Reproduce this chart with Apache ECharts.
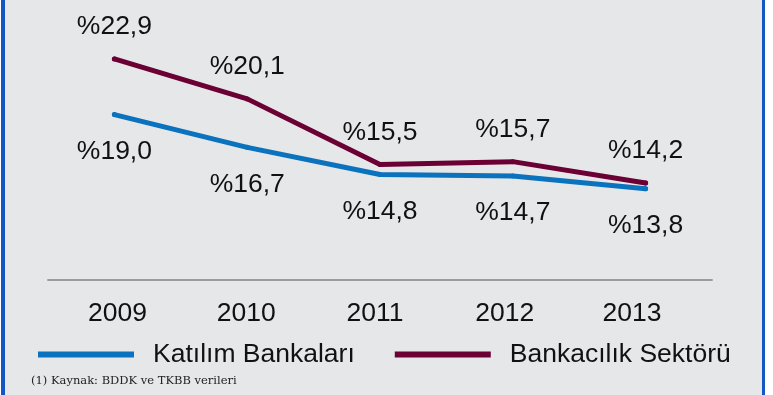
<!DOCTYPE html>
<html>
<head>
<meta charset="utf-8">
<script src="https://cdn.jsdelivr.net/npm/echarts@6/dist/echarts.min.js"></script>
<style>
html,body{margin:0;padding:0;background:#fff;}
#chart{width:773px;height:395px;}
</style>
</head>
<body>
<div id="chart"></div>
<script>
const categories = ['2009', '2010', '2011', '2012', '2013'];
const katilimName = 'Katılım Bankaları';
const bankacilikName = 'Bankacılık Sektörü';
const katilim = [19.0, 16.7, 14.8, 14.7, 13.8];
const bankacilik = [22.9, 20.1, 15.5, 15.7, 14.2];
const footnote = '(1) Kaynak: BDDK ve TKBB verileri';

const fmt = p => '%' + p.value.toFixed(1).replace('.', ',');
const FONT = '"Liberation Sans", Arial, sans-serif';
const FS = 26.5;
const BLUE = '#0b72bd';
const MAROON = '#6a0034';

// small per-label horizontal nudges of the tick labels, as in the original layout
const labelRich = {
  c0: {padding: [0, 0, 0, 6]},
  c1: {padding: [0, 2, 0, 0]},
  c2: {padding: [0, 10, 0, 0]},
  c3: {padding: [0, 16, 0, 0]},
  c4: {padding: [0, 27, 0, 0]}
};

const chart = echarts.init(document.getElementById('chart'), null, {renderer: 'canvas'});
chart.setOption({
  backgroundColor: '#e6e7e8',
  animation: false,
  textStyle: {fontFamily: FONT},
  grid: {left: 48, right: 61, top: 29, bottom: 115},
  xAxis: {
    type: 'category',
    data: categories,
    boundaryGap: true,
    axisLine: {lineStyle: {color: '#9b9b9b', width: 2}},
    axisTick: {show: false},
    axisLabel: {
      interval: 0,
      hideOverlap: false,
      color: '#111', fontSize: FS, fontFamily: FONT, margin: 20,
      formatter: (v, i) => '{c' + i + '|' + v + '}',
      rich: labelRich
    }
  },
  yAxis: {
    type: 'value',
    min: 7.4,
    max: 25,
    show: false,
    splitLine: {show: false}
  },
  legend: {
    left: 38,
    top: 341,
    padding: 0,
    itemWidth: 96,
    itemHeight: 6,
    itemGap: 40,
    icon: 'rect',
    textStyle: {color: '#111', fontSize: FS, fontFamily: FONT, padding: [0, 0, 0, 14]},
    data: [
      {name: katilimName, itemStyle: {color: BLUE, opacity: 1}},
      {name: bankacilikName, itemStyle: {color: MAROON, opacity: 1}}
    ]
  },
  series: [
    {
      name: katilimName,
      type: 'line',
      data: katilim,
      symbol: 'circle',
      symbolSize: 5,
      showSymbol: true,
      color: BLUE,
      itemStyle: {color: BLUE, borderWidth: 0},
      lineStyle: {width: 5, color: BLUE, cap: 'round', join: 'round'},
      label: {show: true, position: 'bottom', distance: 21, formatter: fmt, color: '#111', fontSize: FS, fontFamily: FONT}
    },
    {
      name: bankacilikName,
      type: 'line',
      data: bankacilik,
      symbol: 'circle',
      symbolSize: 5,
      showSymbol: true,
      color: MAROON,
      itemStyle: {color: MAROON, borderWidth: 0},
      lineStyle: {width: 5, color: MAROON, cap: 'round', join: 'round'},
      label: {show: true, position: 'top', distance: 16, formatter: fmt, color: '#111', fontSize: FS, fontFamily: FONT}
    }
  ],
  graphic: [
    {type: 'rect', shape: {x: 0, y: 0, width: 1, height: 395}, style: {fill: '#ffffff'}, silent: true},
    {type: 'rect', shape: {x: 1, y: 0, width: 4, height: 395}, style: {fill: '#1456c4'}, silent: true},
    {type: 'rect', shape: {x: 762, y: 0, width: 3, height: 395}, style: {fill: '#1456c4'}, silent: true},
    {type: 'rect', shape: {x: 765, y: 0, width: 8, height: 395}, style: {fill: '#ffffff'}, silent: true},
    {type: 'text', left: 31, top: 375, style: {text: footnote, fill: '#222', font: '11.5px "DejaVu Serif", "Liberation Serif", serif'}, silent: true}
  ]
});
</script>
</body>
</html>
